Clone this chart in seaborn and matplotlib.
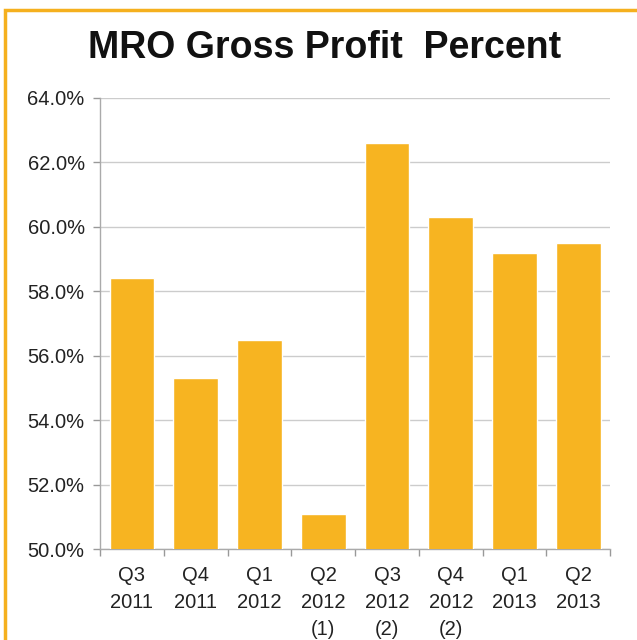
import numpy as np
import pandas as pd
import matplotlib.pyplot as plt
import seaborn as sns
from matplotlib.patches import Rectangle
from matplotlib.ticker import FixedLocator

quarters = ["Q3\n2011", "Q4\n2011", "Q1\n2012", "Q2\n2012\n(1)",
            "Q3\n2012\n(2)", "Q4\n2012\n(2)", "Q1\n2013", "Q2\n2013"]
gross_profit_pct = [58.4, 55.3, 56.5, 51.1, 62.6, 60.3, 59.2, 59.5]
y_ticks = [50, 52, 54, 56, 58, 60, 62, 64]

bar_color = "#F7B421"
frame_color = "#F5B01E"

sns.set_theme(style="white")
plt.rcParams['font.family'] = ['Liberation Sans', 'DejaVu Sans']

df = pd.DataFrame({"Quarter": quarters, "Pct": gross_profit_pct})

fig = plt.figure(figsize=(6.37, 6.4), dpi=100)
ax = fig.add_axes([0.157, 0.142, 0.801, 0.705])

sns.barplot(data=df, x="Quarter", y="Pct", color=bar_color, width=0.7,
            saturation=1, ax=ax, zorder=3)

ax.set_ylim(50, 64)
ax.set_yticks(y_ticks)
ax.set_yticklabels([f"{v:.1f}%" for v in y_ticks], fontsize=14.5, color="#222222")
ax.set_xlim(-0.5, len(quarters) - 0.5)
ax.set_xticks(range(len(quarters)))
ax.set_xticklabels(quarters, fontsize=14.5, color="#222222", linespacing=1.55)
ax.tick_params(axis="x", length=0, pad=12)
ax.tick_params(axis="y", length=5, color="#999999", width=1, pad=6, left=True)
ax.xaxis.set_minor_locator(FixedLocator(np.arange(-0.5, len(quarters), 1)))
ax.tick_params(axis="x", which="minor", length=5, color="#999999", bottom=True)
ax.yaxis.grid(True, color="#CCCCCC", linewidth=1, zorder=0)
ax.set_xlabel("")
ax.set_ylabel("")
for s in ["top", "right"]:
    ax.spines[s].set_visible(False)
for s in ["left", "bottom"]:
    ax.spines[s].set_color("#AAAAAA")
    ax.spines[s].set_linewidth(1)

fig.text(0.51, 0.925, "MRO Gross Profit  Percent", ha="center", va="center",
         fontsize=27, fontweight="bold", color="#111111")

fig.patches.append(Rectangle((5 / 637, -0.1), 1.2, 1 - 10 / 640 + 0.1,
                             transform=fig.transFigure, fill=False,
                             edgecolor=frame_color, linewidth=2.5))

fig.savefig("out.png", dpi=100)
